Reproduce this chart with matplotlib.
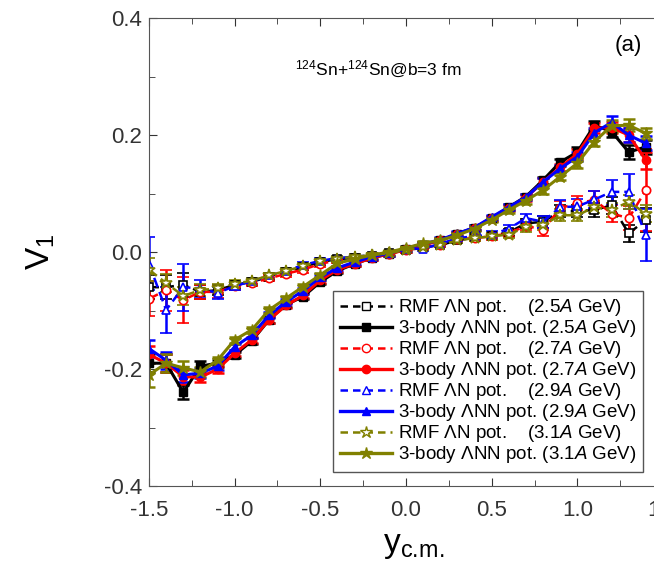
import numpy as np
import matplotlib
matplotlib.use('Agg')
import matplotlib.pyplot as plt
from matplotlib.lines import Line2D

plt.rcParams['font.family'] = ['Liberation Sans', 'DejaVu Sans']
plt.rcParams['mathtext.fontset'] = 'custom'
plt.rcParams['mathtext.rm'] = 'Liberation Sans'
plt.rcParams['mathtext.it'] = 'Liberation Sans:italic'
plt.rcParams['axes.unicode_minus'] = False

# rapidity bins
ycm = [-1.5, -1.4, -1.3, -1.2, -1.1, -1.0, -0.9, -0.8, -0.7, -0.6,
       -0.5, -0.4, -0.3, -0.2, -0.1, 0.0, 0.1, 0.2, 0.3, 0.4,
       0.5, 0.6, 0.7, 0.8, 0.9, 1.0, 1.1, 1.2, 1.3, 1.4]

# RMF Lambda-N potential
rmf_25 = [-0.06, -0.06, -0.056, -0.068, -0.065, -0.056, -0.051, -0.042, -0.034, -0.025,
          -0.017, -0.012, -0.010, -0.006, -0.002, 0.004, 0.008, 0.012, 0.020, 0.025,
          0.028, 0.034, 0.049, 0.052, 0.070, 0.070, 0.072, 0.080, 0.032, 0.055]
rmf_27 = [-0.08, -0.065, -0.082, -0.068, -0.068, -0.058, -0.053, -0.045, -0.037, -0.030,
          -0.020, -0.014, -0.011, -0.007, -0.003, 0.003, 0.008, 0.012, 0.022, 0.024,
          0.027, 0.032, 0.045, 0.038, 0.075, 0.084, 0.089, 0.066, 0.058, 0.106]
rmf_29 = [-0.02, -0.099, -0.060, -0.062, -0.070, -0.058, -0.050, -0.040, -0.032, -0.022,
          -0.015, -0.010, -0.008, -0.005, -0.002, 0.005, 0.006, 0.014, 0.024, 0.027,
          0.030, 0.040, 0.058, 0.052, 0.077, 0.078, 0.090, 0.103, 0.103, 0.029]
rmf_31 = [-0.03, -0.053, -0.075, -0.065, -0.062, -0.054, -0.049, -0.040, -0.032, -0.024,
          -0.016, -0.011, -0.008, -0.005, -0.002, 0.004, 0.008, 0.012, 0.020, 0.024,
          0.027, 0.030, 0.043, 0.046, 0.063, 0.063, 0.077, 0.072, 0.086, 0.066]

# 3-body Lambda-NN potential
tb_25 = [-0.19, -0.19, -0.24, -0.195, -0.19, -0.176, -0.152, -0.116, -0.090, -0.076,
         -0.051, -0.032, -0.020, -0.010, -0.003, 0.005, 0.013, 0.020, 0.031, 0.042,
         0.058, 0.077, 0.095, 0.123, 0.154, 0.171, 0.217, 0.206, 0.171, 0.180]
tb_27 = [-0.175, -0.19, -0.213, -0.214, -0.20, -0.173, -0.150, -0.116, -0.091, -0.074,
         -0.048, -0.030, -0.020, -0.010, -0.003, 0.005, 0.012, 0.020, 0.031, 0.041,
         0.058, 0.076, 0.093, 0.120, 0.145, 0.168, 0.212, 0.213, 0.200, 0.157]
tb_29 = [-0.165, -0.185, -0.21, -0.207, -0.195, -0.162, -0.142, -0.108, -0.085, -0.066,
         -0.043, -0.027, -0.017, -0.008, -0.002, 0.006, 0.014, 0.021, 0.032, 0.042,
         0.060, 0.077, 0.094, 0.120, 0.143, 0.163, 0.204, 0.222, 0.200, 0.186]
tb_31 = [-0.21, -0.19, -0.198, -0.205, -0.185, -0.150, -0.133, -0.099, -0.079, -0.059,
         -0.039, -0.019, -0.012, -0.005, 0.000, 0.007, 0.015, 0.020, 0.029, 0.040,
         0.055, 0.072, 0.088, 0.106, 0.129, 0.152, 0.189, 0.216, 0.217, 0.203]

# error bars
rmf_25_err = [0.02, 0.02, 0.02, 0.012, 0.008, 0.006, 0.005, 0.005, 0.005, 0.005,
              0.005, 0.004, 0.004, 0.004, 0.004, 0.004, 0.004, 0.004, 0.005, 0.005,
              0.005, 0.006, 0.008, 0.010, 0.010, 0.010, 0.012, 0.015, 0.015, 0.020]
rmf_27_err = [0.03, 0.035, 0.04, 0.012, 0.010, 0.006, 0.005, 0.005, 0.005, 0.005,
              0.005, 0.004, 0.004, 0.004, 0.004, 0.004, 0.004, 0.004, 0.005, 0.005,
              0.006, 0.006, 0.008, 0.010, 0.012, 0.012, 0.015, 0.015, 0.020, 0.070]
rmf_29_err = [0.045, 0.04, 0.04, 0.015, 0.010, 0.006, 0.005, 0.005, 0.005, 0.005,
              0.005, 0.004, 0.004, 0.004, 0.004, 0.004, 0.004, 0.004, 0.005, 0.005,
              0.006, 0.006, 0.008, 0.010, 0.012, 0.012, 0.015, 0.020, 0.030, 0.045]
rmf_31_err = [0.02, 0.015, 0.015, 0.010, 0.008, 0.006, 0.005, 0.005, 0.005, 0.005,
              0.005, 0.004, 0.004, 0.004, 0.004, 0.004, 0.004, 0.004, 0.005, 0.005,
              0.005, 0.006, 0.008, 0.008, 0.010, 0.010, 0.010, 0.012, 0.012, 0.015]
tb_25_err = [0.015, 0.015, 0.012, 0.008, 0.006, 0.005, 0.005, 0.005, 0.004, 0.004,
             0.004, 0.004, 0.004, 0.004, 0.004, 0.004, 0.004, 0.004, 0.004, 0.004,
             0.004, 0.005, 0.005, 0.006, 0.006, 0.008, 0.008, 0.010, 0.012, 0.012]
tb_27_err = [0.015, 0.015, 0.012, 0.008, 0.006, 0.005, 0.005, 0.005, 0.004, 0.004,
             0.004, 0.004, 0.004, 0.004, 0.004, 0.004, 0.004, 0.004, 0.004, 0.004,
             0.004, 0.005, 0.005, 0.006, 0.006, 0.008, 0.008, 0.010, 0.012, 0.015]
tb_29_err = [0.015, 0.015, 0.012, 0.008, 0.006, 0.005, 0.005, 0.005, 0.004, 0.004,
             0.004, 0.004, 0.004, 0.004, 0.004, 0.004, 0.004, 0.004, 0.004, 0.004,
             0.004, 0.005, 0.005, 0.006, 0.006, 0.008, 0.008, 0.010, 0.012, 0.012]
tb_31_err = [0.02, 0.015, 0.012, 0.008, 0.006, 0.005, 0.005, 0.005, 0.004, 0.004,
             0.004, 0.004, 0.004, 0.004, 0.004, 0.004, 0.004, 0.004, 0.004, 0.004,
             0.004, 0.005, 0.005, 0.006, 0.006, 0.008, 0.008, 0.010, 0.010, 0.010]

energies = ['2.5', '2.7', '2.9', '3.1']
colors = ['black', '#ff0000', '#0000ff', '#808000']
markers = ['s', 'o', '^', '*']
rmf_all = [rmf_25, rmf_27, rmf_29, rmf_31]
rmf_errs = [rmf_25_err, rmf_27_err, rmf_29_err, rmf_31_err]
tb_all = [tb_25, tb_27, tb_29, tb_31]
tb_errs = [tb_25_err, tb_27_err, tb_29_err, tb_31_err]

fig = plt.figure(figsize=(6.54, 5.65), dpi=100)
ax = fig.add_axes([0.2278, 0.1398, 0.786, 0.828])

handles = []
labels = []
for i in range(4):
    c = colors[i]
    ms = 9 if markers[i] == '*' else 6
    ax.errorbar(ycm, rmf_all[i], yerr=rmf_errs[i], color=c, ls=(0, (4, 2)), lw=1.8,
                marker=markers[i], ms=ms, mfc='white', mec=c, mew=1.2,
                capsize=4, elinewidth=1.8, capthick=1.8)
    ax.errorbar(ycm, tb_all[i], yerr=tb_errs[i], color=c, ls='-', lw=2.2,
                marker=markers[i], ms=ms, mfc=c, mec=c,
                capsize=4, elinewidth=1.8, capthick=1.8)
    handles.append(Line2D([], [], color=c, ls=(0, (3, 2)), lw=1.8, marker=markers[i],
                          ms=ms, mfc='white', mec=c, mew=1.0))
    labels.append(f'RMF \u039bN pot.    ({energies[i]}$\\mathit{{A}}$ GeV)')
    handles.append(Line2D([], [], color=c, ls='-', lw=2.4, marker=markers[i],
                          ms=ms, mfc=c, mec=c))
    labels.append(f'3-body \u039bNN pot. ({energies[i]}$\\mathit{{A}}$ GeV)')

ax.set_xlim(-1.5, 1.5)
ax.set_ylim(-0.4, 0.4)
ax.set_xticks([-1.5, -1.0, -0.5, 0.0, 0.5, 1.0, 1.5])
ax.set_xticks(np.arange(-1.5, 1.51, 0.25), minor=True)
ax.set_yticks([-0.4, -0.2, 0.0, 0.2, 0.4])
ax.set_yticks(np.arange(-0.4, 0.41, 0.1), minor=True)
ax.tick_params(which='both', direction='in', top=True, right=True, labelsize=16, colors='#333333')
ax.tick_params(which='major', length=6)
ax.tick_params(which='minor', length=4)
ax.tick_params(axis='x', pad=10)
ax.tick_params(axis='y', pad=5)
for s in ax.spines.values():
    s.set_color('#555555')

ax.set_xlabel(r'y$_{\rm c.\!m.}$', fontsize=24)
ax.xaxis.set_label_coords(0.516, -0.095)
ax.set_ylabel(r'V$_1$', fontsize=24)
ax.yaxis.set_label_coords(-0.178, 0.5)

ax.text(0.284, 0.878, r'$^{124}$Sn+$^{124}$Sn@b=3 fm', transform=ax.transAxes, fontsize=12.5)
ax.text(0.905, 0.93, '(a)', transform=ax.transAxes, fontsize=16)

leg = ax.legend(handles, labels, loc='lower left', bbox_to_anchor=(0.358, 0.03), fontsize=13.5,
                frameon=True, fancybox=False, edgecolor='#555555', framealpha=1,
                handlelength=2.8, labelspacing=0.0, borderpad=0.35, handletextpad=0.3,
                borderaxespad=0)
leg.get_frame().set_linewidth(1.0)

fig.savefig('out.png', dpi=100)
plt.close('all')
